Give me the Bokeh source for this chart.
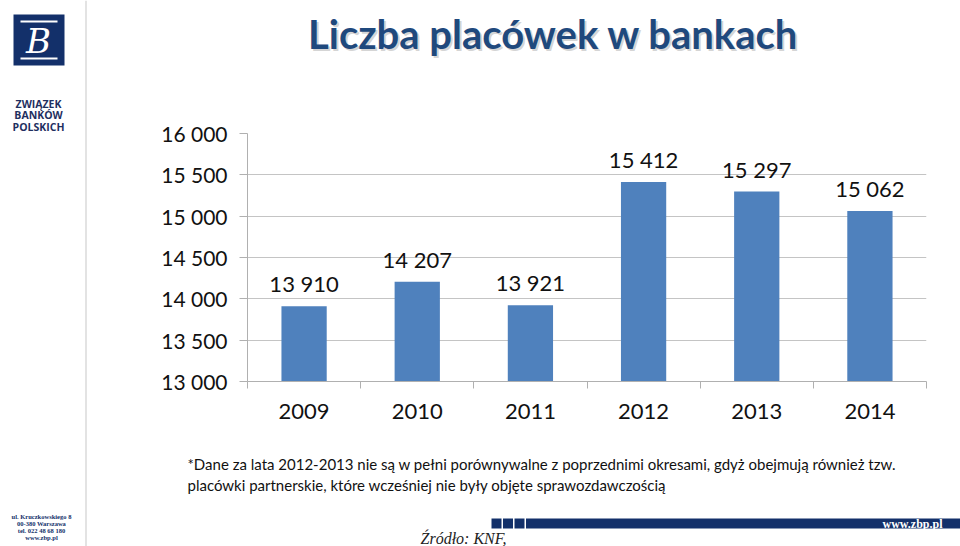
from bokeh.plotting import figure
from bokeh.models import ColumnDataSource, FixedTicker, Label, Range1d
from bokeh.layouts import row, column
from bokeh.core.properties import value
from bokeh.embed import file_html
from bokeh.resources import INLINE

# ---- data ----
years = ["2009", "2010", "2011", "2012", "2013", "2014"]
branches = [13910, 14207, 13921, 15412, 15297, 15062]
value_labels = ["13 910", "14 207", "13 921", "15 412", "15 297", "15 062"]
y_ticks = [13000, 13500, 14000, 14500, 15000, 15500, 16000]
y_tick_labels = ["13 000", "13 500", "14 000", "14 500", "15 000", "15 500", "16 000"]
title_text = "Liczba placówek w bankach"
note_lines = [
    "*Dane za lata 2012-2013 nie są w pełni porównywalne z poprzednimi okresami, gdyż obejmują również tzw.",
    "placówki partnerskie, które wcześniej nie były objęte sprawozdawczością",
]
org_lines = ["ZWIĄZEK", "BANKÓW", "POLSKICH"]
address_lines = ["ul. Kruczkowskiego 8", "00-380 Warszawa", "tel. 022 48 68 180", "www.zbp.pl"]
source_text = "Źródło: KNF,"
web_text = "www.zbp.pl"

FONT = "Lato"
NAVY = "#1F497D"
DARK = "#13306A"
TXT = "#111111"
GRID = "#C4C4C4"


def deco_fig(x0, y0, w, h):
    """A plain figure whose data units are page pixels (y negated)."""
    f = figure(width=w, height=h, output_backend="svg", toolbar_location=None,
               x_range=Range1d(x0, x0 + w), y_range=Range1d(-(y0 + h), -y0),
               x_axis_type=None, y_axis_type=None, min_border=0)
    f.outline_line_color = None
    f.xgrid.grid_line_color = None
    f.ygrid.grid_line_color = None
    return f


def put(f, x, y, text, **kw):
    kw.setdefault("text_font", FONT)
    f.add_layout(Label(x=x, y=-y, text=text, **kw))


def rect(f, x0, y0, x1, y1, color):
    f.quad(left=[x0], right=[x1], top=[-y0], bottom=[-y1], fill_color=color,
           line_color=None)


# ---------------- sidebar ----------------
side = deco_fig(0, 0, 88, 546)
rect(side, 85, 0, 86, 546, "#C8C8C8")
rect(side, 13, 14, 64, 65, DARK)
rect(side, 20, 20, 57, 22, "white")
rect(side, 20, 57, 57, 59, "white")
put(side, 38, 40, "B", text_font="DejaVu Serif", text_font_size="34px",
    text_font_style="italic", text_color="white", text_align="center",
    text_baseline="middle")
for i, line in enumerate(org_lines):
    put(side, 38, 103 + i * 11.5, line, text_font="Open Sans", text_font_size="10.5px",
        text_font_style="bold", text_color="#1F2F5F", text_align="center",
        text_baseline="middle")
for i, line in enumerate(address_lines):
    put(side, 41, 516 + i * 7, line, text_font="Liberation Serif", text_font_size="6.5px",
        text_font_style="bold", text_color=DARK, text_align="center", text_baseline="middle")

# ---------------- title ----------------
ttl = deco_fig(88, 0, 872, 110)
put(ttl, 555, 35, title_text, text_font_size="40px", text_font_style="bold",
    text_color="#B0B0B0", text_alpha=0.55, text_align="center", text_baseline="middle")
put(ttl, 553, 33, title_text, text_font_size="40px", text_font_style="bold",
    text_color=NAVY, text_align="center", text_baseline="middle")

# ---------------- chart ----------------
xs = [i + 0.5 for i in range(len(years))]
src = ColumnDataSource(dict(x=xs, top=branches, lab=value_labels))

p = figure(width=872, height=330, output_backend="svg", toolbar_location=None,
           x_range=Range1d(0, len(years)), y_range=Range1d(13000, 16000),
           min_border_left=159, min_border_right=34, min_border_top=23,
           min_border_bottom=59)
p.outline_line_color = None
p.vbar(x="x", top="top", bottom=13000, width=0.4, source=src,
       fill_color="#4F81BD", line_color=None)
p.text(x="x", y="top", text="lab", source=src, text_align="center",
       text_baseline="bottom", y_offset=-9, text_font=value(FONT),
       text_font_size="22px", text_color=TXT)

p.xgrid.grid_line_color = None
p.ygrid.grid_line_color = GRID
p.yaxis.ticker = FixedTicker(ticks=y_ticks)
p.yaxis.major_label_overrides = {t: l for t, l in zip(y_ticks, y_tick_labels)}
p.yaxis.axis_line_color = "#B0B0B0"
p.yaxis.major_tick_line_color = "#B0B0B0"
p.yaxis.major_tick_out = 8
p.yaxis.major_tick_in = 0
p.yaxis.minor_tick_line_color = None
p.yaxis.major_label_standoff = 12
p.yaxis.major_label_text_font = FONT
p.yaxis.major_label_text_font_size = "21px"
p.yaxis.major_label_text_color = TXT

p.xaxis.ticker = FixedTicker(ticks=xs, minor_ticks=list(range(len(years) + 1)))
p.xaxis.major_label_overrides = {x: y for x, y in zip(xs, years)}
p.xaxis.axis_line_color = "#B0B0B0"
p.xaxis.major_tick_line_color = None
p.xaxis.minor_tick_line_color = "#B0B0B0"
p.xaxis.minor_tick_out = 7
p.xaxis.minor_tick_in = 0
p.xaxis.major_tick_out = 0
p.xaxis.major_label_standoff = 15
p.xaxis.major_label_text_font = FONT
p.xaxis.major_label_text_font_size = "22px"
p.xaxis.major_label_text_color = TXT

# ---------------- bottom ----------------
bot = deco_fig(88, 440, 872, 106)
for i, line in enumerate(note_lines):
    put(bot, 187, 463 + i * 21, line, text_font_size="15px", text_color="#111111",
        text_baseline="middle")
for x0 in (491, 502.5, 514):
    rect(bot, x0, 518, x0 + 10, 528, DARK)
rect(bot, 525.5, 518, 960, 528, DARK)
put(bot, 912, 523, web_text, text_font="Liberation Serif", text_font_size="12px",
    text_font_style="bold", text_color="white", text_align="center", text_baseline="middle")
put(bot, 420, 538, source_text, text_font="Liberation Serif", text_font_size="16px",
    text_font_style="italic", text_color="#222222", text_baseline="alphabetic")

layout = row(side, column(ttl, row(p, spacing=0), bot, spacing=0), spacing=0)
open("out.html", "w").write(file_html(layout, INLINE))
